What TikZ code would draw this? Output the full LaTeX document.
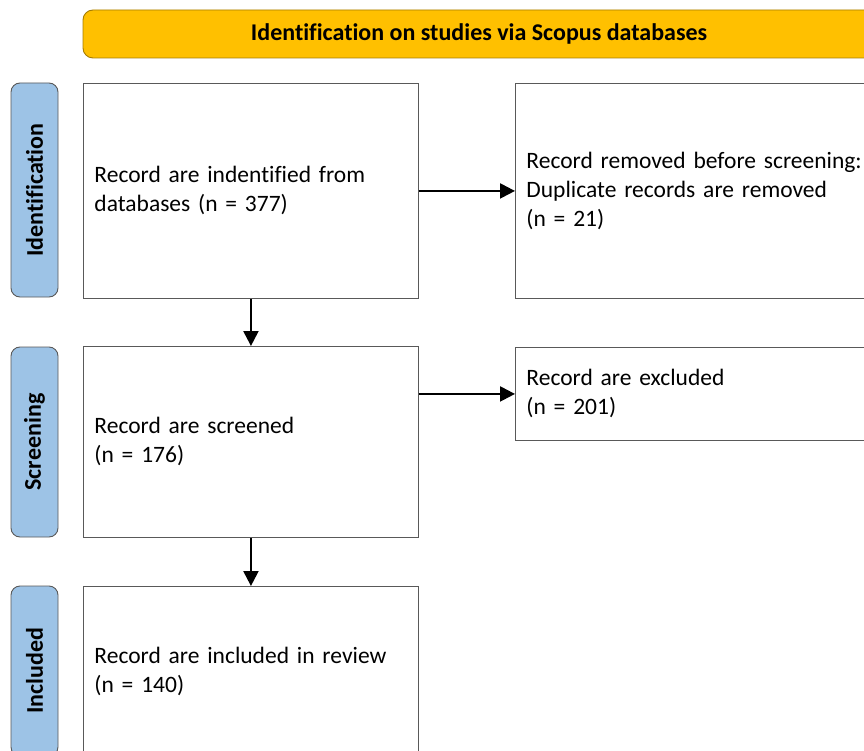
\documentclass[tikz,border=0pt]{standalone}
\usepackage{fontspec}
\setmainfont[Ligatures=CommonOff]{Carlito}
\usetikzlibrary{arrows.meta,positioning}
\definecolor{bannerfill}{HTML}{FFC000}
\definecolor{bannerline}{HTML}{A67C00}
\definecolor{phasefill}{HTML}{9DC3E6}
\definecolor{boxline}{HTML}{595959}
\tikzset{
  recbox/.style={draw=boxline, line width=0.9pt, anchor=north west, align=left,
    inner xsep=11pt, inner ysep=0pt, font=\fontsize{23.5}{29}\selectfont},
  phase/.style={draw=boxline, line width=0.9pt, fill=phasefill, rounded corners=9pt,
    rotate=90, minimum height=47pt, inner sep=0pt, font=\fontsize{24}{28}\selectfont\bfseries},
  flow/.style={line width=2.2pt, -{Triangle[length=15pt,width=15pt]}}
}
\begin{document}
\begin{tikzpicture}[x=1pt,y=-1pt]
\useasboundingbox (0,0) rectangle (864,751);
\node[draw=bannerline, line width=0.9pt, fill=bannerfill, rounded corners=10pt,
  minimum width=792pt, minimum height=48pt, inner sep=0pt,
  font=\fontsize{24}{28}\selectfont\bfseries] (banner) at (479,34)
  {Identification on studies via Scopus databases};
% phase labels
\node[phase, minimum width=214pt] (idlab) at (34.5,190) {Identification};
\node[phase, minimum width=190pt] (scrlab) at (34.5,442) {Screening};
\node[phase, minimum width=170pt] (inclab) at (34.5,671) {Included};
% record boxes
\node[recbox, text width=313pt, minimum height=215pt] (ident) at (83,83)
  {Record are indentified from\\databases (n = 377)};
\node[recbox, text width=338pt, minimum height=215pt] (removed) at (515,83)
  {Record removed before screening:\\Duplicate records are removed\\(n = 21)};
\node[recbox, text width=313pt, minimum height=191pt] (screen) at (83,346)
  {Record are screened\\(n = 176)};
\node[recbox, text width=338pt, minimum height=93pt] (excl) at (515,347)
  {Record are excluded\\(n = 201)};
\node[recbox, text width=313pt, minimum height=170pt] (incl) at (83,586)
  {Record are included in review\\(n = 140)};
% arrows
\draw[flow] (ident) -- (removed);
\draw[flow] (ident) -- (screen);
\draw[flow] (excl.west -| screen.east) -- (excl.west);
\draw[flow] (screen) -- (incl);
\end{tikzpicture}
\end{document}
